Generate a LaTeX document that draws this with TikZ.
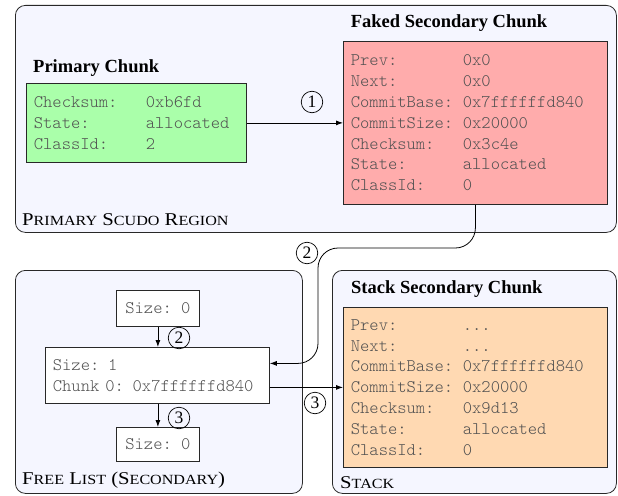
\documentclass[tikz,border=0pt]{standalone}
\usepackage{fontspec}
\setmainfont{Liberation Serif}
\setmonofont{Latin Modern Mono Light}
\usetikzlibrary{arrows.meta,calc}
\definecolor{regfill}{RGB}{245,246,255}
\definecolor{greenfill}{RGB}{170,255,170}
\definecolor{redfill}{RGB}{255,172,172}
\definecolor{orangefill}{RGB}{255,217,178}
\definecolor{monotext}{RGB}{80,80,80}
\definecolor{edge}{RGB}{40,40,40}
\newcommand\kv[2]{\makebox[112pt][l]{#1}#2\par}
\newcommand\smc[1]{{\fontsize{14}{14}\selectfont #1}}
\tikzset{
  region/.style={draw=edge, fill=regfill, rounded corners=10pt, anchor=north west, inner sep=0pt, line width=0.8pt},
  chunk/.style={draw=edge, anchor=north west, inner xsep=7.5pt, inner ysep=0pt, align=left,
    font=\ttfamily\fontsize{17.7}{20.8}\selectfont, text=monotext, line width=0.8pt},
  listbox/.style={draw=edge, fill=white, anchor=north west, inner sep=0pt, align=center,
    font=\ttfamily\fontsize{17.7}{20.8}\selectfont, text=monotext, line width=0.8pt},
  title/.style={font=\bfseries\fontsize{18.5}{20}\selectfont, inner sep=0pt},
  reglabel/.style={font=\fontsize{18}{20}\selectfont, anchor=west, inner sep=0pt},
  num/.style={draw, circle, minimum size=21.5pt, inner sep=0pt, font=\fontsize{17.5}{17.5}\selectfont, line width=0.7pt},
  conn/.style={-{Latex[length=7pt,width=5pt]}, line width=0.8pt},
}
\begin{document}
\begin{tikzpicture}[x=1pt,y=-1pt]
\useasboundingbox (0,0) rectangle (618,495);
% regions
\node[region, minimum width=601pt, minimum height=227pt] (primreg) at (15,5) {};
\node[region, minimum width=287pt, minimum height=223pt] (freereg) at (15,270) {};
\node[region, minimum width=284pt, minimum height=223pt] (stackreg) at (332,270) {};
% region labels
\node[reglabel] (lprim) at (22,220) {\scalebox{1.15}[1]{P\smc{RIMARY} S\smc{CUDO} R\smc{EGION}}};
\node[reglabel] (lfree) at (22,480) {\scalebox{1.15}[1]{F\smc{REE} L\smc{IST} (S\smc{ECONDARY})}};
\node[reglabel] (lstack) at (340,483) {\scalebox{1.15}[1]{S\smc{TACK}}};
% chunk boxes
\node[chunk, fill=greenfill, text width=205pt, minimum height=79pt] (prim) at (26,83) {%
\kv{Checksum:}{0xb6fd}\kv{State:}{allocated}\kv{ClassId:}{2}};
\node[chunk, fill=redfill, text width=249pt, minimum height=163pt] (faked) at (343,41) {%
\kv{Prev:}{0x0}\kv{Next:}{0x0}\kv{CommitBase:}{0x7ffffffd840}\kv{CommitSize:}{0x20000}%
\kv{Checksum:}{0x3c4e}\kv{State:}{allocated}\kv{ClassId:}{0}};
\node[chunk, fill=orangefill, text width=249pt, minimum height=160pt] (stackc) at (343,307) {%
\kv{Prev:}{...}\kv{Next:}{...}\kv{CommitBase:}{0x7ffffffd840}\kv{CommitSize:}{0x20000}%
\kv{Checksum:}{0x9d13}\kv{State:}{allocated}\kv{ClassId:}{0}};
% titles
\node[title, anchor=west] (tprim) at (33,68) {Primary Chunk};
\node[title] (tfaked) at (449,23) {Faked Secondary Chunk};
\node[title, anchor=west] (tstack) at (351,289) {Stack Secondary Chunk};
% free list boxes
\node[listbox, minimum width=83pt, minimum height=36pt] (sz0) at (116,290) {Size: 0};
\node[chunk, fill=white, text width=209pt, minimum height=56pt] (mid) at (45,347) {Size: 1\par Chunk 0: 0x7ffffffd840};
\node[listbox, minimum width=83pt, minimum height=34pt] (sz0b) at (116,427) {Size: 0};
% connectors
\draw[conn] (prim.east) -- (faked.west);
\draw[conn, rounded corners=20pt] (faked.south) |- (318,248) |- ($(mid.east)+(0,-12)$);
\draw[conn] (mid.east |- stackc.west) -- (stackc.west);
\draw[conn] (sz0.south) -- (sz0.south |- mid.north);
\draw[conn] (mid.south -| sz0b.north) -- (sz0b.north);
% step numbers
\node[num] (n1) at (312,102) {1};
\node[num] (n2a) at (307,253) {2};
\node[num] (n2b) at (179,338) {2};
\node[num] (n3a) at (179,418) {3};
\node[num] (n3b) at (315,403) {3};
\end{tikzpicture}
\end{document}
